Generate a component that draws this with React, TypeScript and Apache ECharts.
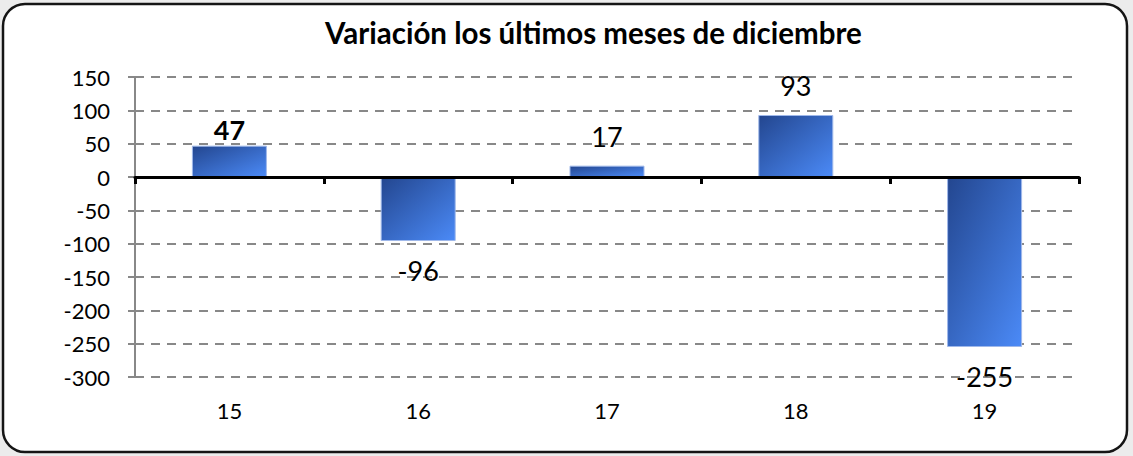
import React, { useEffect, useRef } from "react";
import * as echarts from "echarts";

const TITLE = "Variación los últimos meses de diciembre";
const categories = ["15", "16", "17", "18", "19"];
const values = [47, -96, 17, 93, -255];
const yTicks = { min: -300, max: 150, interval: 50 };

const FONT = "Lato, 'Noto Sans', sans-serif";

export default function App() {
  const ref = useRef<HTMLDivElement>(null);
  useEffect(() => {
    document.body.style.margin = "0";
    document.body.style.background = "#ececec";
    const chart = echarts.init(ref.current!, null, { renderer: "svg" });
    const grad = new echarts.graphic.LinearGradient(0, 0, 1, 1, [
      { offset: 0, color: "#23468f" },
      { offset: 1, color: "#4b8af7" },
    ]);
    const labelFor = (v: number, i: number) => {
      const pos = v >= 0 ? "top" : "bottom";
      const dist = i === 0 ? 3 : 16;
      return {
        show: true,
        position: pos,
        distance: dist,
        fontSize: 27,
        fontWeight: i === 0 ? "bold" : "normal",
        color: "#000",
        fontFamily: FONT,
        formatter: String(v),
      };
    };
    chart.setOption({
      animation: false,
      backgroundColor: "transparent",
      textStyle: { fontFamily: FONT },
      graphic: [
        {
          type: "rect",
          z: -10,
          shape: { x: 3, y: 4, width: 1124, height: 448, r: 22 },
          style: { fill: "#ffffff", stroke: "#151515", lineWidth: 2.5 },
        },
      ],
      title: {
        text: TITLE,
        left: 320,
        top: 12,
        textStyle: { fontSize: 29.5, fontWeight: "bold", color: "#000", fontFamily: FONT },
      },
      grid: { left: 135, right: 54, top: 77, bottom: 79, containLabel: false },
      xAxis: [
        {
          type: "category",
          data: categories,
          position: "bottom",
          axisLine: { show: false, onZero: false },
          axisTick: { show: false },
          axisLabel: { fontSize: 22, color: "#000", margin: 22, fontFamily: FONT },
        },
        {
          type: "category",
          data: categories,
          position: "bottom",
          z: 5,
          axisLine: { show: true, onZero: true, lineStyle: { color: "#000", width: 3 } },
          axisTick: { show: true, length: 7, lineStyle: { color: "#000", width: 3 } },
          axisLabel: { show: false },
        },
      ],
      yAxis: {
        type: "value",
        min: yTicks.min,
        max: yTicks.max,
        interval: yTicks.interval,
        axisLine: { show: true, lineStyle: { color: "#888", width: 2 } },
        axisTick: { show: true, length: 7, lineStyle: { color: "#888", width: 2 } },
        axisLabel: { fontSize: 22, color: "#000", margin: 25, fontFamily: FONT },
        splitLine: {
          show: true,
          lineStyle: { color: "#888", width: 2, type: [9, 7] },
        },
      },
      series: [
        {
          type: "bar",
          xAxisIndex: 0,
          barWidth: 75,
          data: values.map((v, i) => ({ value: v, label: labelFor(v, i) })),
          itemStyle: { color: grad, borderColor: "#9fb8ea", borderWidth: 1 },
        },
      ],
    });
    return () => chart.dispose();
  }, []);
  return <div ref={ref} style={{ width: 1133, height: 456 }} />;
}
